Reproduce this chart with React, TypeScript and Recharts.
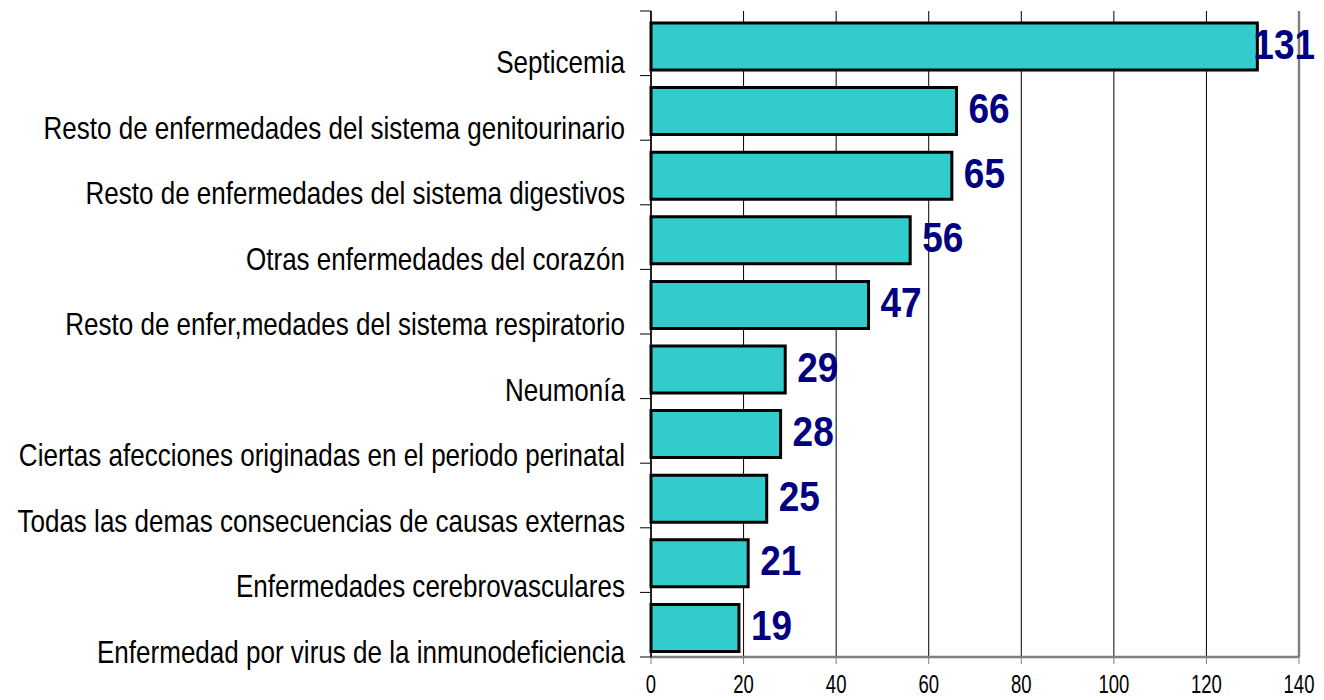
import React from 'react';
import { BarChart, Bar, XAxis, YAxis, CartesianGrid, LabelList, ReferenceLine, Rectangle } from 'recharts';

const categories = [
  'Septicemia',
  'Resto de enfermedades del sistema genitourinario',
  'Resto de enfermedades del sistema digestivos',
  'Otras enfermedades del corazón',
  'Resto de enfer,medades del sistema respiratorio',
  'Neumonía',
  'Ciertas afecciones originadas en el periodo perinatal',
  'Todas las demas consecuencias de causas externas',
  'Enfermedades cerebrovasculares',
  'Enfermedad por virus de la inmunodeficiencia',
];
const values = [131, 66, 65, 56, 47, 29, 28, 25, 21, 19];
const xTicks = [0, 20, 40, 60, 80, 100, 120, 140];

const data = categories.map((name, i) => ({ name, value: values[i] }));

const FONT = '"Liberation Sans", Arial, sans-serif';
const W = 1324;
const H = 700;
const margin = { top: 11, right: 25, bottom: 0, left: 0 };
const plotH = H - margin.top - 43;
const half = plotH / categories.length / 2;

// narrow-looking text: squeeze horizontally
const CategoryTick = (props: any) => {
  const { x, y, payload, index } = props;
  return (
    <g>
      <line x1={640} x2={651} y1={y + half} y2={y + half} stroke="#000" />
      {index === 0 && <line x1={640} x2={651} y1={y - half} y2={y - half} stroke="#000" />}
      <text
        transform={`translate(${x},${y + 30 + index * 0.9}) scale(0.84,1)`}
        textAnchor="end"
        fontFamily={FONT}
        fontSize={31}
        fill="#000"
      >
        {payload.value}
      </text>
    </g>
  );
};

const XTick = (props: any) => {
  const { x, y, payload } = props;
  return (
    <text
      transform={`translate(${x},${y + 27}) scale(0.74,1)`}
      textAnchor="middle"
      fontFamily={FONT}
      fontSize={25}
      fill="#000"
    >
      {payload.value}
    </text>
  );
};

const ValueLabel = (props: any) => {
  const { x, y, width, height, value } = props;
  let lx = x + width + 12;
  let anchor: 'start' | 'end' = 'start';
  const estW = String(value).length * 20.6;
  if (lx + estW > W - 9) {
    lx = W - 9;
    anchor = 'end';
  }
  return (
    <text
      transform={`translate(${lx},${y + height / 2 + 15}) scale(0.88,1)`}
      textAnchor={anchor}
      fontFamily={FONT}
      fontWeight="bold"
      fontSize={42}
      fill="#000080"
    >
      {value}
    </text>
  );
};

const ShiftedBar = (props: any) => <Rectangle {...props} y={props.y + 3} />;

export default function App() {
  return (
    <div style={{ position: 'absolute', left: 0, top: 0, background: '#fff' }}>
      <BarChart width={W} height={H} data={data} layout="vertical" margin={margin} barSize={47}>
        <CartesianGrid horizontal={false} vertical stroke="#000" strokeWidth={1} />
        <XAxis
          type="number"
          domain={[0, 140]}
          ticks={xTicks}
          interval={0}
          height={43}
          axisLine={{ stroke: '#808080', strokeWidth: 2.5 }}
          tickLine={{ stroke: '#808080' }}
          tickSize={7}
          tick={<XTick />}
        />
        <XAxis
          xAxisId="top"
          orientation="top"
          type="number"
          domain={[0, 140]}
          height={0}
          tick={false}
          tickLine={false}
          axisLine={{ stroke: '#808080', strokeWidth: 2.5 }}
        />
        <YAxis
          type="category"
          dataKey="name"
          width={651}
          interval={0}
          tickLine={false}
          tickSize={0}
          tickMargin={26}
          axisLine={{ stroke: '#000', strokeWidth: 1.5 }}
          tick={<CategoryTick />}
        />
        <ReferenceLine x={140} stroke="#808080" strokeWidth={2.5} />
        <Bar
          dataKey="value"
          fill="#33CCCC"
          stroke="#000"
          strokeWidth={3}
          shape={<ShiftedBar />}
          isAnimationActive={false}
        >
          <LabelList dataKey="value" content={<ValueLabel />} />
        </Bar>
      </BarChart>
    </div>
  );
}
